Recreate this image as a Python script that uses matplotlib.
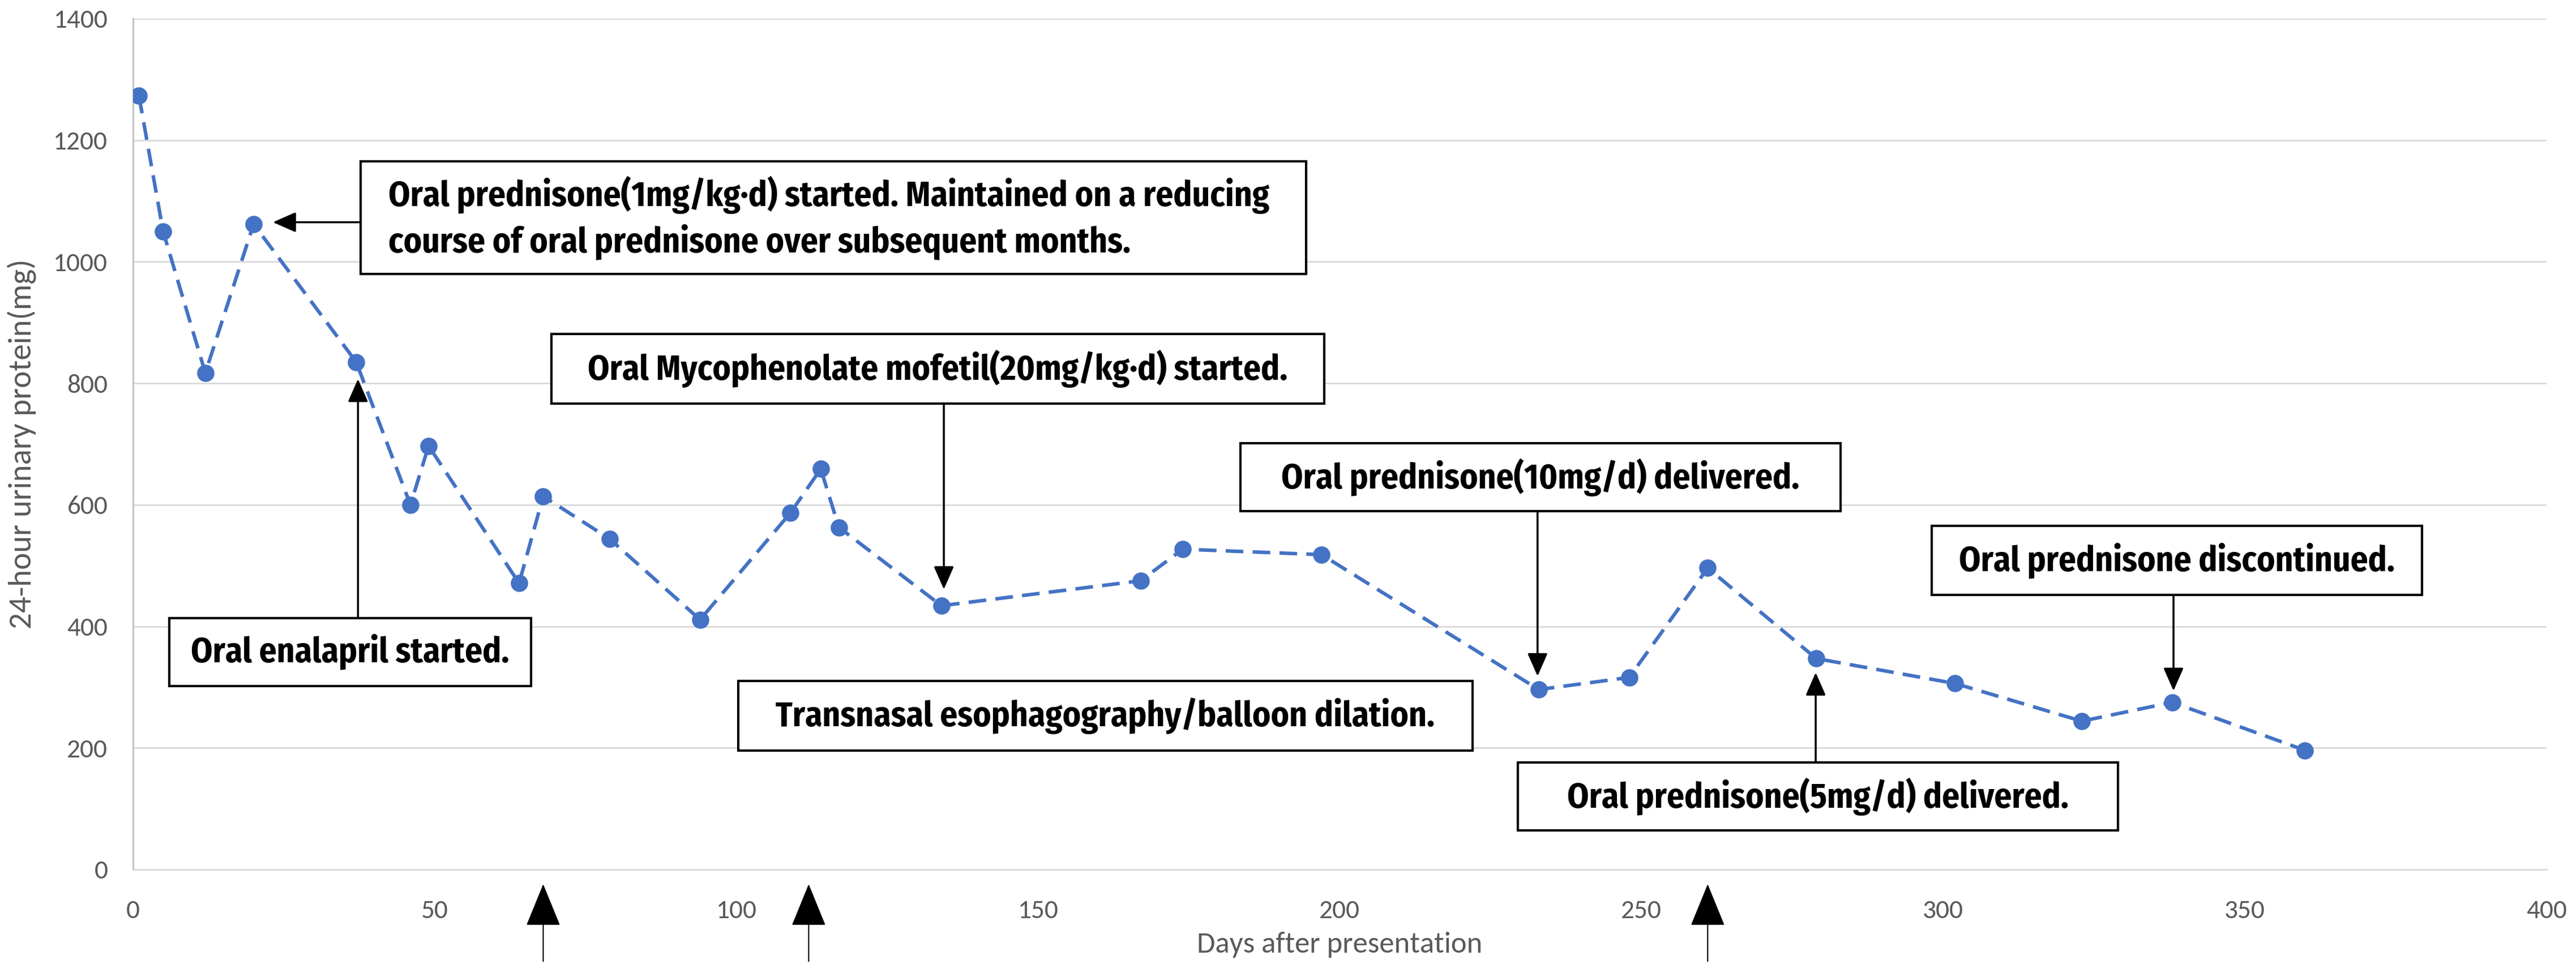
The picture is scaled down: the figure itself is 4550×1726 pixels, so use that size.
import numpy as np
import matplotlib.pyplot as plt
from matplotlib.patches import Rectangle

# data
days = [1, 5, 12, 20, 37, 46, 49, 64, 68, 79, 94, 109, 114, 117, 134,
        167, 174, 197, 233, 248, 261, 279, 302, 323, 338, 360]
protein = [1273, 1050, 817, 1062, 835, 600, 697, 471, 614, 544, 411, 587, 659, 563, 434,
           475, 527, 518, 296, 316, 496, 347, 306, 244, 275, 196]

x_ticks = [0, 50, 100, 150, 200, 250, 300, 350, 400]
y_ticks = [0, 200, 400, 600, 800, 1000, 1200, 1400]
dilation_days = [68, 112, 261]

# text boxes: text, x0, x1, y0, y1, alignment
notes = [
    ("Oral prednisone(1mg/kg\u00b7d) started. Maintained on a reducing\ncourse of oral prednisone over subsequent months.",
     37.7, 194.4, 980, 1165, "left"),
    ("Oral Mycophenolate mofetil(20mg/kg\u00b7d) started.", 69.4, 197.4, 767, 881, "center"),
    ("Oral enalapril started.", 6.0, 66.0, 302, 414, "center"),
    ("Transnasal esophagography/balloon dilation.", 100.3, 222.0, 196, 310, "center"),
    ("Oral prednisone(10mg/d) delivered.", 183.6, 283.0, 590, 701, "center"),
    ("Oral prednisone(5mg/d) delivered.", 229.5, 329.0, 64, 176, "center"),
    ("Oral prednisone discontinued.", 298.1, 379.4, 452, 565, "center"),
]
# arrows: (from x, from y) -> (to x, to y)
pointers = [
    ((37.7, 1065), (23.2, 1065)),
    ((134.4, 767), (134.4, 461)),
    ((37.3, 414), (37.3, 807)),
    ((232.8, 590), (232.8, 318)),
    ((278.9, 176), (278.9, 324)),
    ((338.2, 452), (338.2, 294)),
]

plt.rcParams['font.family'] = ['Carlito', 'Fira Sans Condensed', 'DejaVu Sans']
box_font = ['Fira Sans Condensed', 'DejaVu Sans']

fig = plt.figure(figsize=(45.5, 17.26), dpi=100)
ax = fig.add_axes([0.0516, 0.1101, 0.9369, 0.8708])

ax.plot(days, protein, color='#4472C4', lw=4.5, ls=(0, (5, 2.6)),
        marker='o', ms=21, zorder=3)

ax.set_xlim(0, 400)
ax.set_ylim(0, 1400)
ax.set_xticks(x_ticks)
ax.set_yticks(y_ticks)
ax.grid(axis='y', color='#D9D9D9', lw=2)
ax.set_axisbelow(True)
for s in ['top', 'right']:
    ax.spines[s].set_visible(False)
ax.spines['left'].set_color('#BFBFBF')
ax.spines['left'].set_linewidth(2)
ax.spines['bottom'].set_color('#D9D9D9')
ax.spines['bottom'].set_linewidth(2)
ax.tick_params(length=0, labelsize=34, labelcolor='#595959')
ax.tick_params(axis='x', pad=38)
ax.tick_params(axis='y', pad=32)
ax.set_xlabel("Days after presentation", fontsize=38, color='#595959', labelpad=12)
ax.set_ylabel("24-hour urinary protein(mg)", fontsize=41, color='#595959', labelpad=22)

for text, x0, x1, y0, y1, align in notes:
    ax.add_patch(Rectangle((x0, y0), x1 - x0, y1 - y0, facecolor='white',
                           edgecolor='black', lw=3, zorder=4))
    if align == "left":
        ax.text(x0 + 4.6, (y0 + y1) / 2, text, ha='left', va='center', fontsize=44,
                fontweight='bold', family=box_font, linespacing=1.35, zorder=5)
    else:
        ax.text((x0 + x1) / 2, (y0 + y1) / 2, text, ha='center', va='center', fontsize=44,
                fontweight='bold', family=box_font, zorder=5)

for start, end in pointers:
    ax.annotate('', xy=end, xytext=start,
                arrowprops=dict(arrowstyle='-|>,head_length=25,head_width=11',
                                mutation_scale=1, lw=2.5, color='black',
                                shrinkA=0, shrinkB=0), zorder=5)

for d in dilation_days:
    ax.annotate('', xy=(d, -0.0173), xycoords=('data', 'axes fraction'),
                xytext=(d, -0.108), textcoords=('data', 'axes fraction'),
                arrowprops=dict(arrowstyle='-|>,head_length=49,head_width=20',
                                mutation_scale=1, lw=1.5, color='black',
                                shrinkA=0, shrinkB=0),
                annotation_clip=False)

fig.savefig("out.png", dpi=100)
